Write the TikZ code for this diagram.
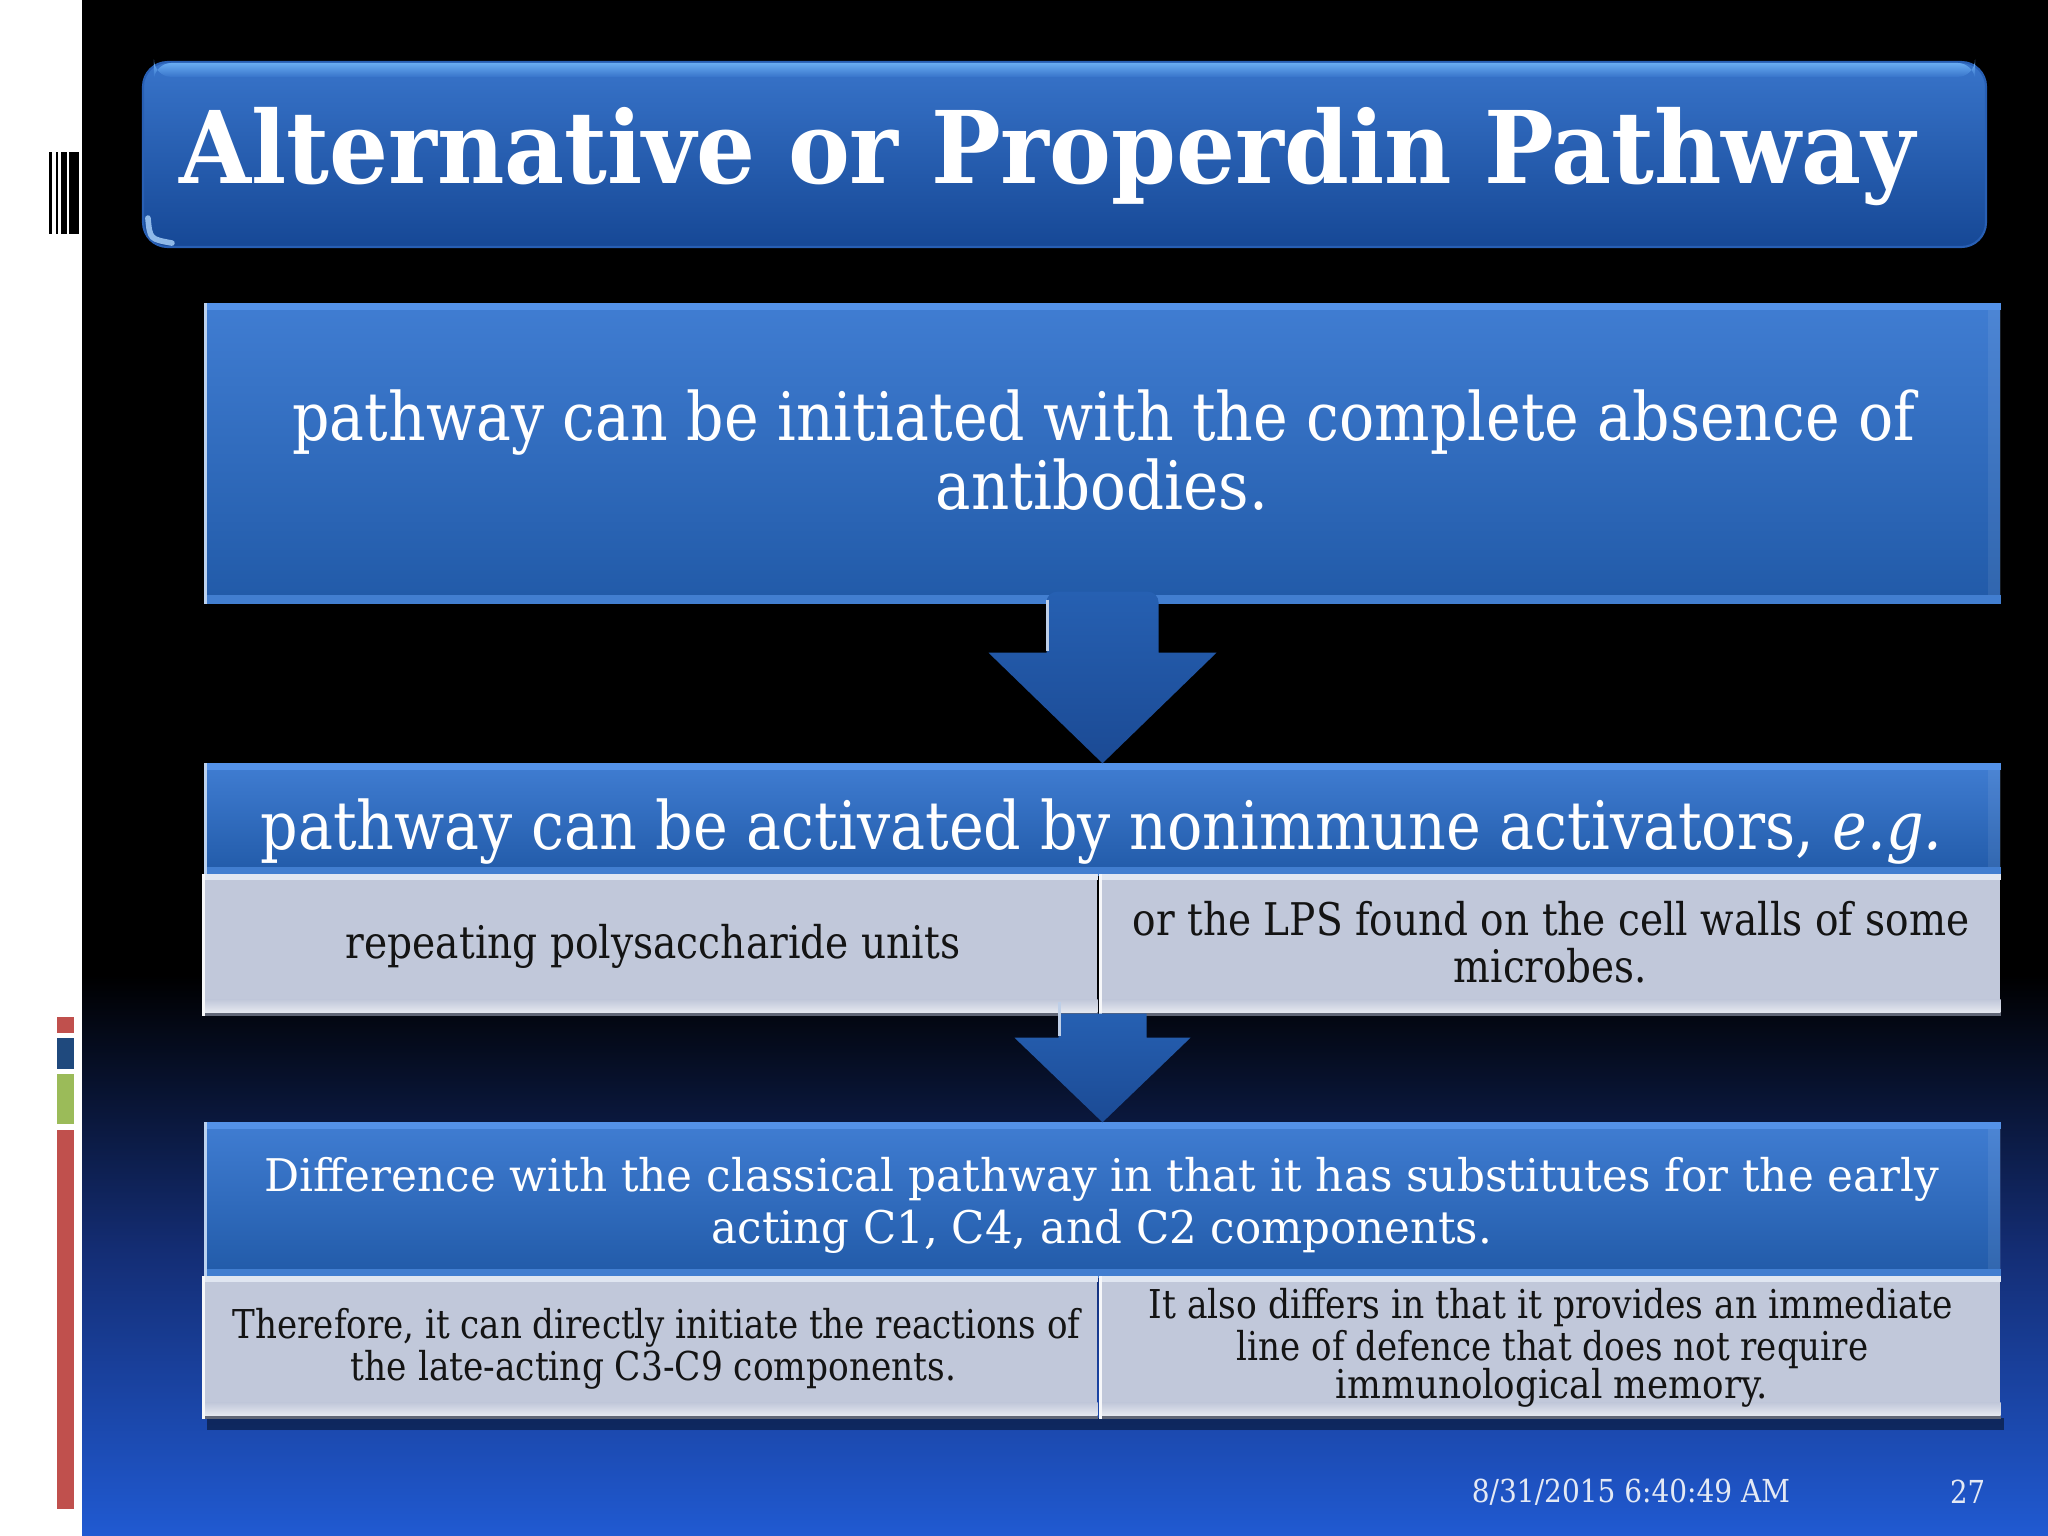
\documentclass[tikz,border=0pt]{standalone}
\usepackage{fontspec}
\setmainfont{DejaVu Serif}
\usepackage{graphicx}
\usetikzlibrary{calc,fit}
\definecolor{bgblue}{RGB}{32,90,210}
\definecolor{bgmid}{RGB}{20,46,118}
\definecolor{titletop}{RGB}{56,116,202}
\definecolor{titlebot}{RGB}{22,72,150}
\definecolor{titlehi}{RGB}{105,172,242}
\definecolor{titleedge}{RGB}{40,95,180}
\definecolor{boxtop}{RGB}{64,125,210}
\definecolor{boxbot}{RGB}{33,90,168}
\definecolor{edgehi}{RGB}{84,146,232}
\definecolor{bevel}{RGB}{66,126,208}
\definecolor{subfill}{RGB}{193,200,218}
\definecolor{subtop}{RGB}{224,230,241}
\definecolor{subbot}{RGB}{96,102,118}
\definecolor{arrtop}{RGB}{38,96,178}
\definecolor{arrbot}{RGB}{27,74,148}
\definecolor{stripred}{RGB}{192,80,77}
\definecolor{stripblue}{RGB}{31,73,125}
\definecolor{stripgreen}{RGB}{155,187,89}
\definecolor{foot}{RGB}{228,233,244}
\newcommand{\fitw}[2]{\resizebox{#1cm}{\height}{#2}}
\newcommand{\boxedges}[1]{%
  \fill[edgehi] (#1.north west) rectangle ($(#1.north east)+(0,7)$);
  \fill[bevel] ($(#1.south west)+(0,-9)$) rectangle (#1.south east);
  \fill[white,opacity=0.07] ($(#1.north east)+(-13,7)$) rectangle ($(#1.south east)+(0,-9)$);
  \draw[white!65!boxtop,line width=0.9pt] ($(#1.north west)+(1.5,0)$) -- ($(#1.south west)+(1.5,0)$);}
\newcommand{\subedges}[1]{%
  \shade[top color=subfill,bottom color=white!60!subfill] ($(#1.south west)+(0,-16)$) rectangle ($(#1.south east)+(0,-3)$);
  \fill[subtop] (#1.north west) rectangle ($(#1.north east)+(0,6)$);
  \fill[subbot] ($(#1.south west)+(0,-3)$) rectangle (#1.south east);
  \draw[white!85!subfill,line width=0.9pt] ($(#1.north west)+(1.5,0)$) -- ($(#1.south west)+(1.5,0)$);}
\begin{document}
\begin{tikzpicture}[x=0.01cm,y=-0.01cm,
  bluebox/.style={inner sep=0pt,top color=boxtop,bottom color=boxbot},
  subbox/.style={inner sep=0pt,fill=subfill},
  arrowfill/.style={top color=arrtop,bottom color=arrbot},
  wtxt/.style={text=white,inner sep=0pt,anchor=base},
  btxt/.style={text=black!92,inner sep=0pt,anchor=base},
  bigfont/.style={font=\fontsize{19}{23}\selectfont},
  midfont/.style={font=\fontsize{12.8}{15}\selectfont},
  smallfont/.style={font=\fontsize{11.3}{13}\selectfont}]
\useasboundingbox (0,0) rectangle (2048,1536);
% background
\fill[black] (0,0) rectangle (2048,1536);
\shade[top color=black,bottom color=bgblue,middle color=bgmid] (82,975) rectangle (2048,1536);
\fill[white] (0,0) rectangle (82,1536);
\foreach \a/\b in {49/52,56/58,61/67,69/79} \fill[black] (\a,152) rectangle (\b,234);
\fill[stripred] (57,1017) rectangle (74,1033);
\fill[stripblue] (57,1038) rectangle (74,1069);
\fill[stripgreen] (57,1074) rectangle (74,1124);
\fill[stripred] (57,1130) rectangle (74,1509);
% title
\node[fit={(143,62) (1986,247)},inner sep=0pt,rounded corners=7pt,top color=titletop,bottom color=titlebot,draw=titleedge,line width=0.6pt] (tb) {};
\shade[top color=titlehi,bottom color=titletop,rounded corners=5pt] ($(tb.north west)+(12,2)$) rectangle ($(tb.north east)+(-12,16)$);
\draw[titlehi!60!white,line width=1.6pt,line cap=round,opacity=0.85] ($(tb.south west)+(6,-30)$) .. controls ($(tb.south west)+(8,-9)$) .. ($(tb.south west)+(30,-5)$);
\node[wtxt,font=\bfseries\fontsize{28.5}{32}\selectfont] (title) at (1047.5,183) {\fitw{17.35}{Alternative or Properdin Pathway}};
% box 1
\node[bluebox,fit={(205,304) (2000,603)}] (b1) {};
\boxedges{b1}
\node[wtxt,bigfont] (b1a) at (1104,440) {\fitw{16.22}{pathway can be initiated with the complete absence of}};
\node[wtxt,bigfont] (b1b) at (1102,509) {\fitw{3.32}{antibodies.}};
% box 2
\node[bluebox,fit={(205,764) (2000,875)}] (b2) {};
\boxedges{b2}
\node[wtxt,bigfont] (b2a) at (1101.5,849) {\fitw{16.81}{pathway can be activated by nonimmune activators, \textit{e.g.}}};
\node[subbox,fit={(203,875) (1097,1015)}] (b2l) {};
\node[subbox,fit={(1100,875) (2000,1015)}] (b2r) {};
\subedges{b2l}
\subedges{b2r}
\node[btxt,midfont] (b2la) at (653,958) {\fitw{6.14}{repeating polysaccharide units}};
\node[btxt,midfont] (b2ra) at (1551,935) {\fitw{8.36}{or the LPS found on the cell walls of some}};
\node[btxt,midfont] (b2rb) at (1550.5,982) {\fitw{1.93}{microbes.}};
% arrow 1
\path[arrowfill] ($(b1.south)+(-56,49)$) [rounded corners=3pt] -- ($(b1.south)+(-56,-12)$) -- ($(b1.south)+(56,-12)$) [sharp corners] -- ($(b1.south)+(56,49)$) -- ($(b1.south)+(114,49)$) -- (b2.north) -- ($(b1.south)+(-114,49)$) -- cycle;
\draw[white!70!arrtop,line width=1.1pt] ($(b1.south)+(-55,-4)$) -- ($(b1.south)+(-55,47)$);
% box 3
\node[bluebox,fit={(205,1123) (2000,1277)}] (b3) {};
\boxedges{b3}
\node[wtxt,midfont] (b3a) at (1102,1191) {\fitw{16.74}{Difference with the classical pathway in that it has substitutes for the early}};
\node[wtxt,midfont] (b3b) at (1102,1243) {\fitw{7.80}{acting C1, C4, and C2 components.}};
\fill[black,opacity=0.45] (207,1418) rectangle (2004,1430);
\node[subbox,fit={(203,1277) (1097,1418)}] (b3l) {};
\node[subbox,fit={(1100,1277) (2000,1418)}] (b3r) {};
\subedges{b3l}
\subedges{b3r}
\node[btxt,smallfont] (b3la) at (656.5,1338) {\fitw{8.47}{Therefore, it can directly initiate the reactions of}};
\node[btxt,smallfont] (b3lb) at (653.5,1380) {\fitw{6.05}{the late-acting C3-C9 components.}};
\node[btxt,smallfont] (b3ra) at (1551,1318) {\fitw{8.04}{It also differs in that it provides an immediate}};
\node[btxt,smallfont] (b3rb) at (1552.5,1360) {\fitw{6.31}{line of defence that does not require}};
\node[btxt,smallfont] (b3rc) at (1552,1398) {\fitw{4.32}{immunological memory.}};
% arrow 2
\coordinate (a2) at (b3.north |- b2l.south);
\path[arrowfill] ($(a2)+(-44,22)$) -- ($(a2)+(-44,-2)$) -- ($(a2)+(44,-2)$) -- ($(a2)+(44,22)$) -- ($(a2)+(88,22)$) -- (b3.north) -- ($(a2)+(-88,22)$) -- cycle;
\draw[white!70!arrtop,line width=1.1pt] ($(a2)+(-43,-14)$) -- ($(a2)+(-43,20)$);
% footer
\node[text=foot,inner sep=0pt,anchor=base,font=\fontsize{9}{11}\selectfont] (date) at (1631,1502) {\fitw{3.18}{8/31/2015 6:40:49 AM}};
\node[text=foot,inner sep=0pt,anchor=base,font=\fontsize{9}{11}\selectfont] (page) at (1967.5,1503) {\fitw{0.35}{27}};
\end{tikzpicture}
\end{document}
